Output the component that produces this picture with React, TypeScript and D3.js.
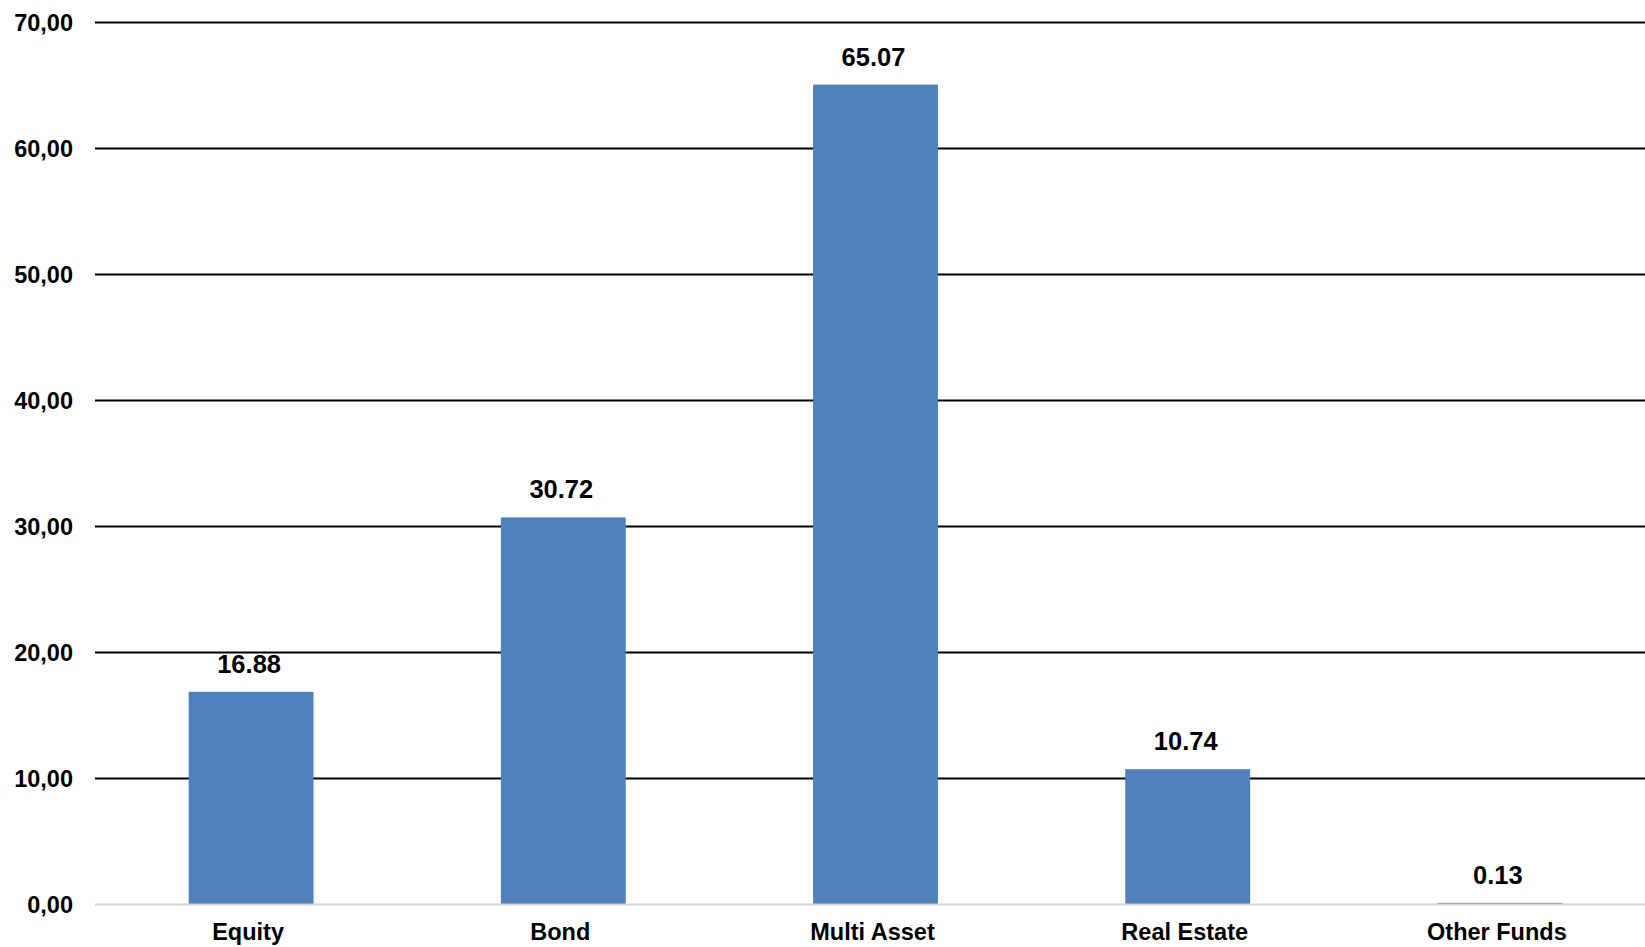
import React from "react";
import * as d3 from "d3";

const categories = ["Equity", "Bond", "Multi Asset", "Real Estate", "Other Funds"];
const values = [16.88, 30.72, 65.07, 10.74, 0.13];
const yTicks = [0, 10, 20, 30, 40, 50, 60, 70];

const W = 1645;
const H = 947;

export default function App() {
  const x = d3.scaleBand<string>().domain(categories).range([95, 1656]).paddingInner(0.6).paddingOuter(0.3);
  const y = d3.scaleLinear().domain([0, 70]).range([904.5, 22.5]);
  const fmt = (v: number) => v.toFixed(2).replace(".", ",");
  const font = "'Liberation Sans', Arial, sans-serif";
  const cx = (c: string) => (x(c) as number) + x.bandwidth() / 2;
  return (
    <svg width={W} height={H} style={{ position: "absolute", left: 0, top: 0, background: "#fff" }}>
      <rect x={0} y={0} width={W} height={H} fill="#fff" />
      {yTicks.map((t) => (
        <g key={t}>
          {t > 0 && <line x1={95} x2={W} y1={y(t)} y2={y(t)} stroke="#000" strokeWidth={2} />}
          <text x={73} y={y(t)} dy="0.35em" textAnchor="end" fontFamily={font} fontWeight="bold" fontSize={23.5} fill="#000">
            {fmt(t)}
          </text>
        </g>
      ))}
      {categories.map((c, i) => (
        <g key={c}>
          <rect x={x(c)} y={y(values[i])} width={x.bandwidth()} height={y(0) - y(values[i])} fill="#4f81bd" />
          <text x={cx(c) - 2} y={y(values[i]) - 19} textAnchor="middle" fontFamily={font} fontWeight="bold" fontSize={25.5} fill="#000">
            {values[i].toFixed(2)}
          </text>
          <text x={cx(c) - 3} y={940} textAnchor="middle" fontFamily={font} fontWeight="bold" fontSize={23.5} fill="#000">
            {c}
          </text>
        </g>
      ))}
      <line x1={95} x2={W} y1={y(0)} y2={y(0)} stroke="#d4d4d4" strokeWidth={2} />
    </svg>
  );
}
